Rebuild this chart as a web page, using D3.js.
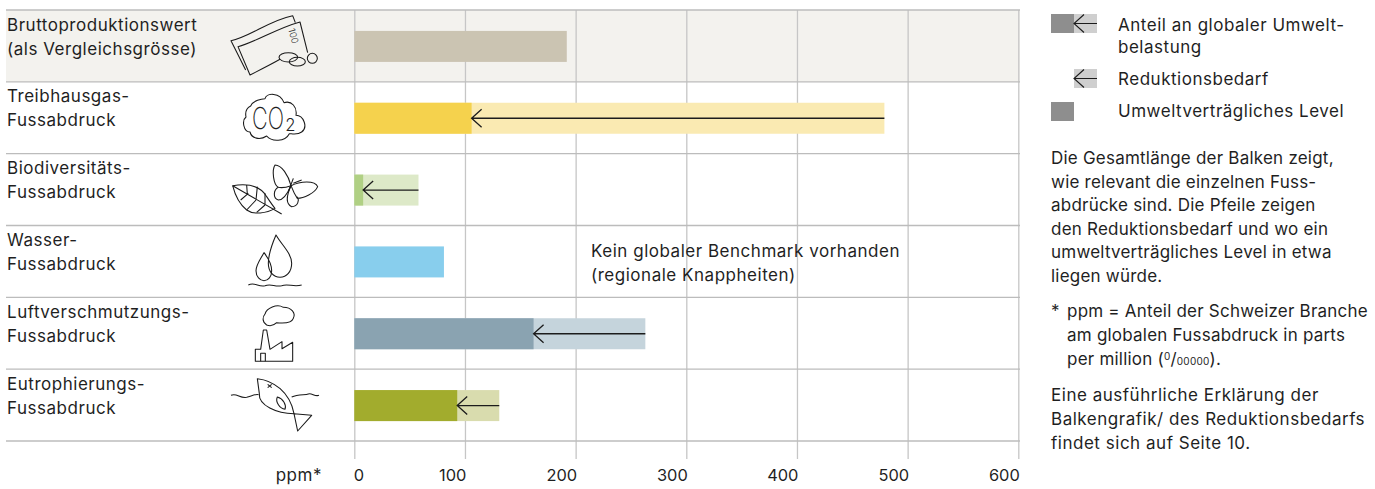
<!DOCTYPE html>
<html lang="de">
<head>
<meta charset="utf-8">
<title>Fussabdrücke</title>
<script src="https://cdn.jsdelivr.net/npm/d3@7"></script>
<style>
  html, body { margin: 0; background: #fff; }
  svg { display: block; }
  text { font-family: Inter, sans-serif; font-size: 17px; letter-spacing: 0.52px; fill: #1f1f1f; }
  .tick text { font-size: 16.4px; letter-spacing: 0; }
  .icon text { letter-spacing: 0; }
  .note text, text.note { letter-spacing: 0.22px; }
  .icon path, .icon ellipse, .icon circle { fill: none; stroke: #1a1a1a; stroke-width: 3.2; stroke-linejoin: round; }
</style>
</head>
<body>
<svg id="chart"></svg>
<script>
// Categories and values (ppm)
const categories = ["output", "ghg", "bio", "water", "air", "eutro"];
const labelLine1 = ["Bruttoproduktionswert", "Treibhausgas-", "Biodiversitäts-", "Wasser-", "Luftverschmutzungs-", "Eutrophierungs-"];
const labelLine2 = ["(als Vergleichsgrösse)", "Fussabdruck", "Fussabdruck", "Fussabdruck", "Fussabdruck", "Fussabdruck"];
const levelValues = [192, 106, 8, 81, 162, 93];
const totalValues = [null, 479, 58, null, 263, 131];
const tickValues = [0, 100, 200, 300, 400, 500, 600];

const solidColors = ["#cbc4b2", "#f5d24d", "#b0d084", "#88ceed", "#8aa3b1", "#a2ac2d"];
const paleColors = [null, "#faeab2", "#dde9c8", null, "#c5d4dc", "#d9dcae"];

const legendLines = [
  { t: "Anteil an globaler Umwelt-", y: 31 },
  { t: "belastung", y: 53 },
  { t: "Reduktionsbedarf", y: 85 },
  { t: "Umweltverträgliches Level", y: 117 }
];
const noteLines = [
  "Die Gesamtlänge der Balken zeigt,",
  "wie relevant die einzelnen Fuss-",
  "abdrücke sind. Die Pfeile zeigen",
  "den Reduktionsbedarf und wo ein",
  "umweltverträgliches Level in etwa",
  "liegen würde."
];
const moreLines = [
  "Eine ausführliche Erklärung der",
  "Balkengrafik/ des Reduktionsbedarfs",
  "findet sich auf Seite 10."
];

const W = 1375, H = 489;
const svg = d3.select("#chart").attr("width", W).attr("height", H);

const x = d3.scaleLinear().domain([0, 600]).range([354.3, 1018.3]);
const y = d3.scaleBand().domain(categories).range([10, 441]);
const BAR_H = 31;
const barY = c => y(c) + (y.bandwidth() - BAR_H) / 2 + 0.5;

// Shaded first row
svg.append("rect")
  .attr("x", 6).attr("y", y(categories[0]))
  .attr("width", 1014).attr("height", y.bandwidth())
  .attr("fill", "#f3f2ee");

// Vertical gridlines + tick labels (labels sit left of their line, 0 sits right)
const axis = svg.append("g")
  .attr("transform", `translate(0,10)`)
  .call(d3.axisBottom(x).tickValues(tickValues).tickSize(449).tickPadding(10).tickFormat(d3.format("d")));
axis.select(".domain").remove();
axis.selectAll("line").attr("stroke", "#c6c6c6").attr("stroke-width", 1.3);
axis.selectAll("text")
  .attr("font-size", null).attr("font-family", null).attr("dy", null)
  .attr("y", 471)
  .attr("x", d => d === 0 ? -1 : 1)
  .style("text-anchor", d => d === 0 ? "start" : "end");

// Row rules
svg.append("g").selectAll("line")
  .data(categories.concat("end"))
  .join("line")
  .attr("x1", 6).attr("x2", 1020)
  .attr("y1", (d, i) => 10 + i * y.step())
  .attr("y2", (d, i) => 10 + i * y.step())
  .attr("stroke", "#bcbcbc").attr("stroke-width", 1.3);

// Row labels
const rows = svg.append("g").selectAll("g").data(categories).join("g")
  .attr("transform", d => `translate(7,${y(d)})`);
rows.append("text").attr("y", 20.5).text((d, i) => labelLine1[i]);
rows.append("text").attr("y", 44.5).text((d, i) => labelLine2[i]);

// Bars
const bars = categories.map((c, i) => ({ c, level: levelValues[i], total: totalValues[i], solid: solidColors[i], pale: paleColors[i] }));

svg.append("g").selectAll("rect")
  .data(bars.filter(d => d.total !== null))
  .join("rect")
  .attr("x", d => x(0)).attr("y", d => barY(d.c))
  .attr("width", d => x(d.total) - x(0)).attr("height", BAR_H)
  .attr("fill", d => d.pale);

svg.append("g").selectAll("rect")
  .data(bars)
  .join("rect")
  .attr("x", d => x(0)).attr("y", d => barY(d.c))
  .attr("width", d => x(d.level) - x(0)).attr("height", BAR_H)
  .attr("fill", d => d.solid);

function arrowPath(x0, x1, cy) {
  return `M${x0},${cy}L${x1},${cy}M${x1 + 10},${cy - 9}L${x1},${cy}L${x1 + 10},${cy + 9}`;
}

svg.append("g").selectAll("path")
  .data(bars.filter(d => d.total !== null))
  .join("path")
  .attr("d", d => arrowPath(x(d.total), x(d.level), barY(d.c) + BAR_H / 2))
  .attr("fill", "none").attr("stroke", "#1c1c1c").attr("stroke-width", 1.3);

svg.append("text").attr("x", 591).attr("y", 257).text("Kein globaler Benchmark vorhanden");
svg.append("text").attr("x", 591).attr("y", 281).text("(regionale Knappheiten)");
svg.append("text").attr("x", 322).attr("y", 481).attr("text-anchor", "end").text("ppm*");

// Icons, drawn in 3x crop units
function icon(tx, ty) {
  return svg.append("g").attr("class", "icon").attr("transform", `translate(${tx},${ty}) scale(${1 / 3})`);
}
function strokes(g, list) { list.forEach(d => g.append("path").attr("d", d)); }

const money = icon(220, 10);
strokes(money, [
  "M77,180L33,92C90,80 150,30 218,17L226,38",
  "M180,148C150,165 120,180 90,195L54,110C110,95 170,55 240,36L263,128"
]);
money.append("ellipse").attr("cx", 205).attr("cy", 142).attr("rx", 28).attr("ry", 14);
money.append("ellipse").attr("cx", 232).attr("cy", 155).attr("rx", 24).attr("ry", 13);
money.append("circle").attr("cx", 277).attr("cy", 145).attr("r", 15);
money.append("text").attr("transform", "translate(205,58) rotate(75)").style("font-size", "28px").style("font-weight", 300).text("100");

const co2 = icon(220, 82);
strokes(co2, ["M92,72C100,55 125,50 135,50C140,32 180,30 192,62C215,55 232,75 228,100C250,100 265,135 245,150C232,160 215,155 208,155C195,180 155,180 140,162C120,175 95,170 90,150C70,150 65,115 78,105C75,90 80,78 92,72Z"]);
const coText = co2.append("text").style("font-size", "92px").style("font-weight", 200).text("CO");
// squeeze the CO to the narrow width it has in the icon
coText.attr("transform", `translate(96,140) scale(${96 / coText.node().getComputedTextLength()},1)`);
co2.append("text").attr("x", 196).attr("y", 147).style("font-size", "50px").style("font-weight", 300).text("2");

const bio = icon(220, 155);
strokes(bio, [
  "M38,92C80,85 120,90 140,125C150,140 160,155 165,160C140,175 100,180 80,165C55,145 45,120 38,92Z",
  "M38,92L185,177M80,90L82,118M112,95L108,135M62,135L85,115M80,165L108,135M110,172L135,150M135,115L135,150",
  "M213,92C205,60 185,30 165,30C155,45 160,90 175,97C190,100 205,95 213,92",
  "M175,97C160,105 158,130 175,135C190,135 205,110 213,92",
  "M213,92C240,78 285,75 293,95C285,115 250,130 232,130C225,120 218,105 213,92",
  "M213,92C200,120 195,145 215,155C235,155 238,135 232,125",
  "M205,110L220,70M220,85L245,75"
]);

const water = icon(0, 150);
strokes(water, [
  "M828,255C815,285 805,310 805,340C805,365 820,382 840,382C860,382 875,365 875,340C875,310 845,285 828,255Z",
  "M792,308C780,330 768,345 768,362C768,380 780,392 792,392C805,392 815,380 815,362C815,345 805,325 792,308Z",
  "M745,405C765,395 775,412 795,407C815,400 825,412 845,407C865,400 880,412 905,405"
]);

const factory = icon(220, 300);
strokes(factory, [
  "M140,75C125,65 128,50 135,42C140,25 170,10 190,22C215,22 228,40 220,55C215,70 190,70 170,68C160,78 148,78 140,75Z",
  "M106,184L106,148L122,148L130,90L140,90L150,148L186,125L186,146L218,127L218,184Z",
  "M122,184L122,160L136,160L136,184"
]);

const fish = icon(220, 372);
strokes(fish, [
  "M112,20C160,25 210,60 222,125C170,125 115,100 118,65Z",
  "M172,75C190,80 200,100 195,112C180,110 165,90 172,75Z",
  "M222,125L275,130L233,177Z",
  "M33,70C50,62 60,80 80,76C95,72 105,65 116,68",
  "M215,75C235,65 255,70 265,66C275,62 285,75 297,70",
  "M143,37L155,47M155,37L143,47"
]);

// Legend
const legend = svg.append("g");
legend.append("rect").attr("x", 1051).attr("y", 14).attr("width", 23).attr("height", 19).attr("fill", "#8e8e8e");
legend.append("rect").attr("x", 1074).attr("y", 14).attr("width", 23).attr("height", 19).attr("fill", "#cfcfcf");
legend.append("rect").attr("x", 1074).attr("y", 69).attr("width", 23).attr("height", 19).attr("fill", "#cfcfcf");
legend.append("rect").attr("x", 1051).attr("y", 102).attr("width", 23).attr("height", 19).attr("fill", "#8e8e8e");
[23.5, 78.5].forEach(cy => {
  legend.append("path").attr("d", arrowPath(1097, 1074, cy))
    .attr("fill", "none").attr("stroke", "#1c1c1c").attr("stroke-width", 1.1);
});
legend.selectAll("text").data(legendLines).join("text")
  .attr("x", 1118).attr("y", d => d.y).text(d => d.t);

// Side notes
svg.append("g").attr("class", "note").selectAll("text").data(noteLines).join("text")
  .attr("x", 1051).attr("y", (d, i) => 164 + i * 23.6).text(d => d);

svg.append("text").attr("x", 1051).attr("y", 317).text("*");
svg.append("text").attr("class", "note").attr("x", 1067).attr("y", 317).text("ppm = Anteil der Schweizer Branche");
svg.append("text").attr("class", "note").attr("x", 1067).attr("y", 341).text("am globalen Fussabdruck in parts");
const perMillion = svg.append("text").attr("class", "note").attr("x", 1067).attr("y", 365).text("per million (");
perMillion.append("tspan").attr("dy", -5).style("font-size", "10px").text("0");
perMillion.append("tspan").attr("dy", 5).text("/");
perMillion.append("tspan").style("font-size", "10px").text("00000");
perMillion.append("tspan").text(").");

svg.append("g").selectAll("text").data(moreLines).join("text")
  .attr("x", 1051).attr("y", (d, i) => 401 + i * 24).text(d => d);
</script>
</body>
</html>
